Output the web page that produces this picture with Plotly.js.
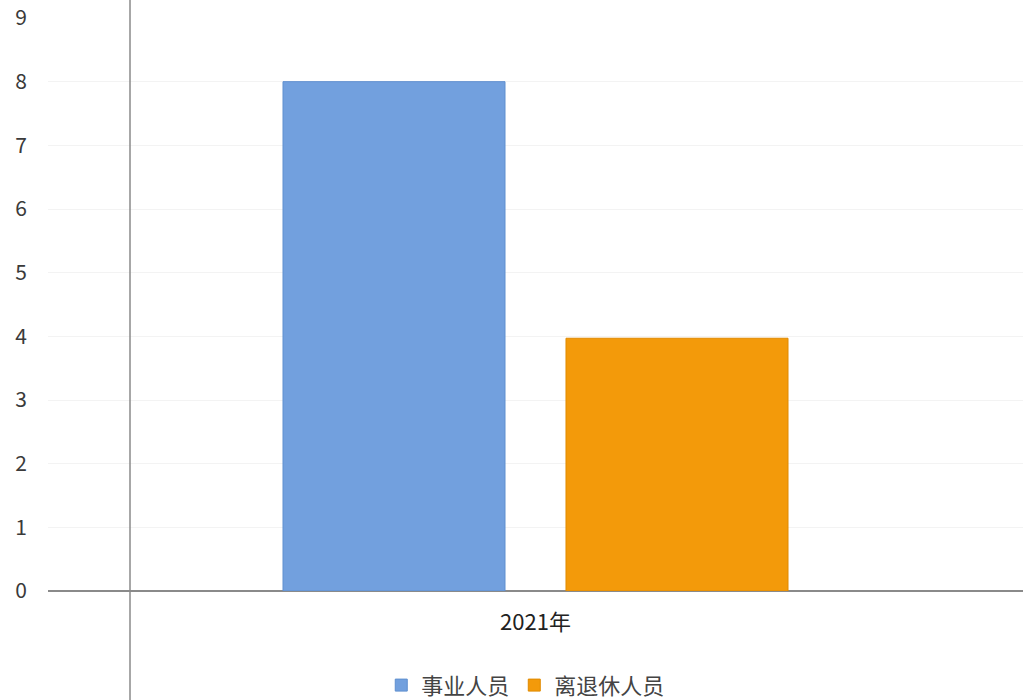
<!DOCTYPE html>
<html>
<head>
<meta charset="utf-8">
<script src="https://cdn.plot.ly/plotly-3.0.1.min.js"></script>
<style>html,body{margin:0;padding:0;background:#fff;}#chart{width:1023px;height:700px;}</style>
</head>
<body>
<div id="chart"></div>
<script>
const categories = ['2021年'];
const seriesNames = ['事业人员', '离退休人员'];
const staffValues = [8];
const retiredValues = [3.97];
const yTicks = [0, 1, 2, 3, 4, 5, 6, 7, 8, 9];

const font = "'Noto Sans CJK SC', 'Open Sans', sans-serif";

const traces = [
  {type: 'bar', name: seriesNames[0], x: categories, y: staffValues,
   marker: {color: '#72a0de', line: {color: '#5f8fcf', width: 1}}},
  {type: 'bar', name: seriesNames[1], x: categories, y: retiredValues,
   marker: {color: '#f39a0a', line: {color: '#e08a00', width: 1}}}
];

const layout = {
  width: 1023, height: 700,
  margin: {l: 48, r: 0, t: 18, b: 109, autoexpand: false},
  paper_bgcolor: '#fff', plot_bgcolor: '#fff',
  barmode: 'group', bargap: 0.4195, bargroupgap: 0.2155,
  font: {family: font, color: '#333'},
  xaxis: {
    showgrid: false, showline: false, ticks: '', zeroline: false,
    tickfont: {size: 22, color: '#222', family: font},
    ticklabelstandoff: 16
  },
  yaxis: {
    range: [0, 9], tickvals: yTicks, showgrid: true, gridcolor: '#f3f3f3', gridwidth: 1,
    zeroline: true, zerolinecolor: '#8a8a8a', zerolinewidth: 1.5,
    showline: false, ticks: '',
    tickfont: {size: 21, color: '#3a3a3a', family: font},
    ticklabelstandoff: 20
  },
  showlegend: true,
  legend: {orientation: 'h', x: 0.49, xanchor: 'center', yref: 'container', y: 0.021, yanchor: 'middle',
    font: {size: 22, color: '#444', family: font}, itemwidth: 30, traceorder: 'normal'},
  shapes: [
    {type: 'line', xref: 'paper', yref: 'paper', x0: 0.0841, x1: 0.0841, y0: -0.2, y1: 1.04,
     line: {color: '#8a8a8a', width: 1.5}}
  ]
};

Plotly.newPlot('chart', traces, layout, {displayModeBar: false, staticPlot: true});
</script>
</body>
</html>
